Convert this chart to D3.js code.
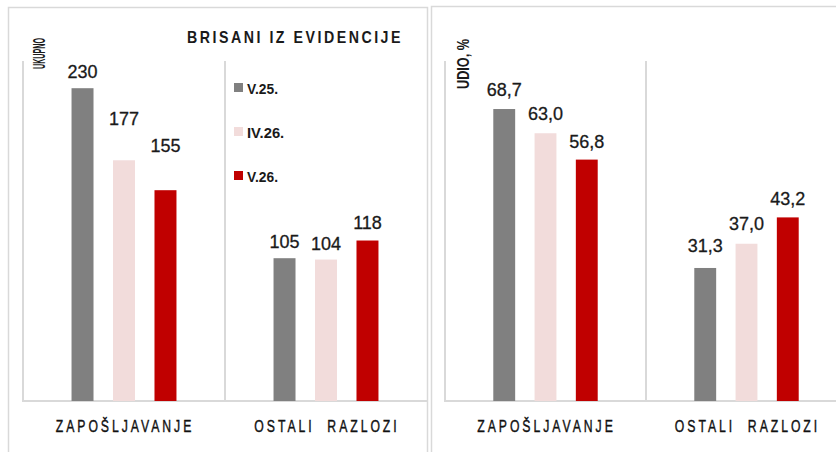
<!DOCTYPE html>
<meta charset="utf-8">
<style>
  body { margin: 0; background: #fff; }
  text { font-family: "Liberation Sans", Arial, sans-serif; fill: #1a1a1a; }
  .val { font-size: 18px; stroke: #1a1a1a; stroke-width: 0.3px; }
  .cat { font-size: 17px; letter-spacing: 4.1px; white-space: pre; fill: #111; stroke: #111; stroke-width: 0.4px; }
  .ttl { font-size: 17px; font-weight: bold; letter-spacing: 3px; }
  .axt { font-size: 16px; font-weight: bold; }
  .leg { font-size: 15px; font-weight: bold; }
</style>
<body>
<div id="chart"></div>
<script src="https://cdnjs.cloudflare.com/ajax/libs/d3/7.8.5/d3.min.js"></script>
<script>
  // data
  var categories = ["ZAPOŠLJAVANJE", "OSTALI  RAZLOZI"];
  var series = ["V.25.", "IV.26.", "V.26."];
  var colors = ["#808080", "#f2dcdb", "#c00000"];
  var ukupno = [[230, 177, 155], [105, 104, 118]];
  var udio = [[68.7, 63.0, 56.8], [31.3, 37.0, 43.2]];

  var w = 836, h = 452;
  var svg = d3.select("#chart").append("svg")
    .attr("width", w).attr("height", h);

  // panel frames
  svg.append("rect").attr("x", 8.5).attr("y", 7.5).attr("width", 419).attr("height", 470)
    .attr("fill", "none").attr("stroke", "#d9d9d9").attr("stroke-width", 1.5);
  svg.append("rect").attr("x", 431.5).attr("y", 6.5).attr("width", 430).attr("height", 470)
    .attr("fill", "none").attr("stroke", "#d9d9d9").attr("stroke-width", 1.5);

  function panel(opt) {
    var g = svg.append("g");
    var x = d3.scaleBand().domain(categories).range([opt.x0, opt.x1]);
    var x1 = d3.scaleBand().domain(series).range([0, x.bandwidth()])
      .paddingInner(0.47).paddingOuter(1.17);
    var y = d3.scaleLinear().domain([0, opt.max]).range([401, 61]);

    // axis lines
    g.selectAll(".vl").data(categories).enter().append("line")
      .attr("x1", function (d) { return x(d); })
      .attr("x2", function (d) { return x(d); })
      .attr("y1", y(opt.max)).attr("y2", y(0))
      .attr("stroke", "#d9d9d9").attr("stroke-width", 2);
    g.append("line").attr("x1", opt.x0 - 1).attr("x2", opt.x1)
      .attr("y1", y(0)).attr("y2", y(0))
      .attr("stroke", "#d9d9d9").attr("stroke-width", 2);

    var grp = g.selectAll(".grp").data(categories).enter().append("g")
      .attr("transform", function (d) { return "translate(" + x(d) + ",0)"; });

    var items = grp.selectAll("g").data(function (d, i) {
      return series.map(function (s, j) { return { s: s, i: i, j: j, v: opt.values[i][j] }; });
    }).enter().append("g");

    items.append("rect")
      .attr("x", function (d) { return x1(d.s); })
      .attr("width", x1.bandwidth())
      .attr("y", function (d) { return y(d.v); })
      .attr("height", function (d) { return y(0) - y(d.v); })
      .attr("fill", function (d) { return colors[d.j]; });

    // labels were nudged by hand in the original, so gaps vary
    items.append("text").attr("class", "val")
      .attr("x", function (d) { return x1(d.s) + x1.bandwidth() / 2; })
      .attr("y", function (d) { return y(d.v) - opt.gap[d.i][d.j]; })
      .attr("text-anchor", "middle")
      .text(function (d) { return opt.fmt(d.v); });

    // narrow, letter-spaced category names (squeezed horizontally)
    g.selectAll(".cat").data(categories).enter().append("text")
      .attr("class", "cat")
      .attr("transform", function (d) {
        return "translate(" + (x(d) + x.bandwidth() / 2 + 1) + ",432) scale(0.72,1)";
      })
      .attr("text-anchor", "middle")
      .text(function (d) { return d; });

    g.append("text").attr("class", "axt")
      .attr("transform", "translate(" + opt.axX + "," + opt.axY + ") rotate(-90)")
      .attr("textLength", opt.axLen)
      .attr("lengthAdjust", "spacingAndGlyphs")
      .text(opt.axis);
    return g;
  }

  panel({ x0: 23, x1: 427, max: 250, values: ukupno, axis: "UKUPNO", axX: 45, axY: 69, axLen: 31,
    gap: [[10, 35, 38], [10, 10, 12]],
    fmt: function (v) { return d3.format("d")(v); } });
  panel({ x0: 445, x1: 847, max: 80, values: udio, axis: "UDIO, %", axX: 469, axY: 89, axLen: 50,
    gap: [[13, 13, 12], [16, 14, 12]],
    fmt: function (v) { return d3.format(".1f")(v).replace(".", ","); } });

  // title
  svg.append("text").attr("class", "ttl").attr("x", 187).attr("y", 43)
    .attr("textLength", 216).attr("lengthAdjust", "spacingAndGlyphs")
    .text("BRISANI IZ EVIDENCIJE");

  // legend
  var leg = svg.selectAll(".lg").data(series).enter().append("g")
    .attr("transform", function (d, i) { return "translate(234," + (83 + i * 44) + ")"; });
  leg.append("rect").attr("width", 9).attr("height", 9)
    .attr("fill", function (d, i) { return colors[i]; });
  leg.append("text").attr("class", "leg").attr("x", 13).attr("y", 11)
    .attr("textLength", function (d) { return d.length * 6.2; })
    .attr("lengthAdjust", "spacingAndGlyphs")
    .text(function (d) { return d; });
</script>
</body>
